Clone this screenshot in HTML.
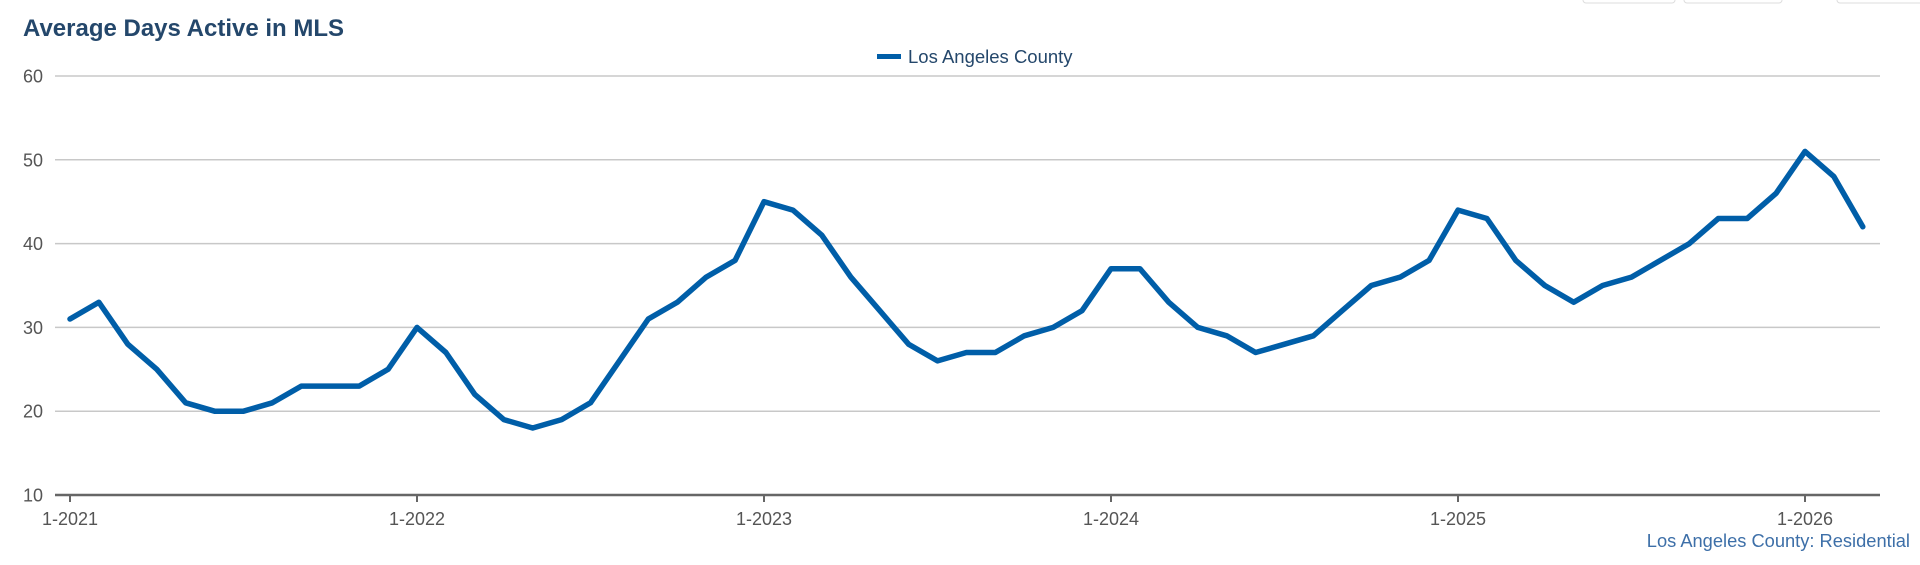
<!DOCTYPE html>
<html><head><meta charset="utf-8"><style>
body{margin:0;background:#fff;width:1920px;height:560px;overflow:hidden;font-family:"Liberation Sans",sans-serif}
</style></head><body>
<svg width="1920" height="560" xmlns="http://www.w3.org/2000/svg">
<rect x="1583" y="-6" width="92" height="9" rx="3" fill="#fff" stroke="#ddd"/>
<rect x="1684" y="-6" width="98" height="9" rx="3" fill="#fff" stroke="#ddd"/>
<rect x="1837" y="-6" width="90" height="9" rx="3" fill="#fff" stroke="#ddd"/>
<text x="23" y="36" font-size="24" font-weight="bold" fill="#24476b">Average Days Active in MLS</text>
<g>
<rect x="877" y="54" width="24" height="5" fill="#005ea8"/>
<text x="908" y="63" font-size="18.5" fill="#24476b">Los Angeles County</text>
</g>
<g id="grid"></g>
<g id="xaxis"></g>
<path id="line" fill="none" stroke="#005ea8" stroke-width="5.5" stroke-linejoin="round" stroke-linecap="round"/>
<text x="1910" y="547" font-size="18.3" fill="#3d6fa8" text-anchor="end">Los Angeles County: Residential</text>
</svg>
<script>
const yTicks=[10,20,30,40,50,60];
const xTickLabels=["1-2021","1-2022","1-2023","1-2024","1-2025","1-2026"];
const values=[31,33,28,25,21,20,20,21,23,23,23,25,
30,27,22,19,18,19,21,26,31,33,36,38,
45,44,41,36,32,28,26,27,27,29,30,32,
37,37,33,30,29,27,28,29,32,35,36,38,
44,43,38,35,33,35,36,38,40,43,43,46,
51,48,42];
const NS="http://www.w3.org/2000/svg";
const x0=70,monthW=347/12,plotL=55,plotR=1880;
const yScale=v=>495-(v-10)*(419/50);
const xScale=i=>x0+i*monthW;
const grid=document.getElementById('grid');
yTicks.forEach(v=>{
 const y=yScale(v);
 if(v!==10){
  const l=document.createElementNS(NS,'line');
  
  
  l.setAttribute('x1',plotL);l.setAttribute('x2',plotR);l.setAttribute('y1',y);l.setAttribute('y2',y);
  l.setAttribute('stroke','#c8c8c8');l.setAttribute('stroke-width','1.5');grid.appendChild(l);
 }
 const t=document.createElementNS(NS,'text');
 
 
 t.setAttribute('x',43);t.setAttribute('y',y+6.5);t.setAttribute('text-anchor','end');
 t.setAttribute('font-size','18');t.setAttribute('fill','#555');t.textContent=v;grid.appendChild(t);
});
const xa=document.getElementById('xaxis');
const ax=document.createElementNS(NS,'line');


ax.setAttribute('x1',plotL);ax.setAttribute('x2',plotR);ax.setAttribute('y1',495);ax.setAttribute('y2',495);
ax.setAttribute('stroke','#666');ax.setAttribute('stroke-width','2.5');xa.appendChild(ax);
xTickLabels.forEach((lab,k)=>{
 const x=xScale(k*12);
 const tk=document.createElementNS(NS,'line');
 
 
 tk.setAttribute('x1',x);tk.setAttribute('x2',x);tk.setAttribute('y1',495);tk.setAttribute('y2',502);
 tk.setAttribute('stroke','#666');tk.setAttribute('stroke-width','2');xa.appendChild(tk);
 const t=document.createElementNS(NS,'text');
 
 
 t.setAttribute('x',x);t.setAttribute('y',525);t.setAttribute('text-anchor','middle');
 t.setAttribute('font-size','18');t.setAttribute('fill','#555');t.textContent=lab;xa.appendChild(t);
});
document.getElementById('line').setAttribute('d',values.map((v,i)=>(i?'L':'M')+xScale(i).toFixed(1)+','+yScale(v).toFixed(1)).join(''));
</script>
</body></html>
